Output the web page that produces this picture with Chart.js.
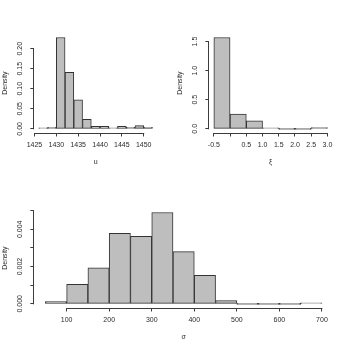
<!DOCTYPE html>
<html><head><meta charset="utf-8">
<script src="https://cdn.jsdelivr.net/npm/chart.js@4/dist/chart.umd.min.js"></script>
<style>
html,body{margin:0;padding:0;background:#fff;}
#wrap{position:relative;width:350px;height:350px;overflow:hidden;}
.p{position:absolute;}
</style></head><body>
<div id="wrap">
<div class="p" style="left:0;top:0;width:175px;height:175px"><canvas id="c1" width="175" height="175"></canvas></div>
<div class="p" style="left:175px;top:0;width:175px;height:175px"><canvas id="c2" width="175" height="175"></canvas></div>
<div class="p" style="left:0;top:175px;width:350px;height:175px"><canvas id="c3" width="350" height="175"></canvas></div>
</div>
<script>
// ---- data: u ----
const uBreaks = [1426,1428,1430,1432,1434,1436,1438,1440,1442,1444,1446,1448,1450,1452];
const uDensity = [0.0012,0.0035,0.228,0.141,0.0725,0.0235,0.006,0.006,0.002,0.006,0.0035,0.008,0.004];
const uTicks = [1425,1430,1435,1440,1445,1450];
const uTickLabels = ['1425','1430','1435','1440','1445','1450'];
const uYTicks = [0,0.05,0.10,0.15,0.20];
const uYTickLabels = ['0.00','0.05','0.10','0.15','0.20'];

// ---- data: xi ----
const xiBreaks = [-0.5,0,0.5,1.0,1.5,2.0,2.5,3.0];
const xiDensity = [1.57,0.252,0.137,0.017,0,0,0.02];
const xiTicks = [-0.5,0,0.5,1.0,1.5,2.0,2.5,3.0];
const xiTickLabels = ['-0.5','','0.5','1.0','1.5','2.0','2.5','3.0'];
const xiYTicks = [0,0.5,1.0,1.5];
const xiYTickLabels = ['0.0','0.5','1.0','1.5'];

// ---- data: sigma ----
const sigmaBreaks = [50,100,150,200,250,300,350,400,450,500,550,600,650,700];
const sigmaDensity = [0.00012,0.00105,0.00193,0.00378,0.00362,0.0049,0.0028,0.00153,0.00018,0,0,0,0.00005];
const sigmaTicks = [100,200,300,400,500,600,700];
const sigmaTickLabels = ['100','200','300','400','500','600','700'];
const sigmaYTicks = [0,0.001,0.002,0.003,0.004,0.005];
const sigmaYTickLabels = ['0.000','','0.002','','0.004',''];

const AXIS = '#3c3c3c';
const TEXT = '#2a2a2a';
Chart.defaults.font.family = '"Liberation Sans", Arial, Helvetica, sans-serif';
Chart.defaults.font.size = 7;
Chart.defaults.color = TEXT;

const axisLines = {
  id: 'axisLines',
  afterDraw(chart, args, o) {
    const {ctx, chartArea: a, scales: {x, y}} = chart;
    ctx.save();
    ctx.strokeStyle = AXIS; ctx.lineWidth = 1;
    const yb = Math.round(a.bottom) + 0.5;
    ctx.beginPath();
    ctx.moveTo(x.getPixelForValue(o.xTicks[0]) - 0.5, yb);
    ctx.lineTo(x.getPixelForValue(o.xTicks[o.xTicks.length - 1]) + 0.5, yb);
    const xl = Math.round(a.left) - 0.5;
    ctx.moveTo(xl, y.getPixelForValue(o.yTicks[0]) + 0.5);
    ctx.lineTo(xl, y.getPixelForValue(o.yTicks[o.yTicks.length - 1]) - 0.5);
    ctx.stroke();
    ctx.restore();
  }
};

function makeHist(id, breaks, density, xTicks, xLabels, yTicks, yLabels, xTitle, yPad, rightPad) {
  const mids = density.map((d, i) => (breaks[i] + breaks[i + 1]) / 2);
  const span = breaks[breaks.length - 1] - breaks[0];
  const ymax = Math.max(...density);
  new Chart(document.getElementById(id), {
    type: 'bar',
    data: {
      datasets: [{
        data: density.map((d, i) => ({x: mids[i], y: d})),
        backgroundColor: '#bebebe',
        borderColor: '#333333',
        borderWidth: 1,
        borderSkipped: false,
        barPercentage: 1,
        categoryPercentage: 1,
        minBarLength: 1
      }]
    },
    options: {
      responsive: false,
      animation: false,
      layout: {padding: {top: 33.8, right: rightPad, bottom: 0, left: 0}},
      plugins: {legend: {display: false}, tooltip: {enabled: false}, axisLines: {xTicks, yTicks}},
      scales: {
        x: {
          type: 'linear',
          offset: false,
          min: breaks[0] - 0.04 * span,
          max: breaks[breaks.length - 1] + 0.04 * span,
          afterBuildTicks: s => { s.ticks = xTicks.map(v => ({value: v})); },
          afterFit: s => { s.height = 42.5; },
          border: {display: false},
          grid: {offset: false, drawOnChartArea: false, drawTicks: true, tickLength: 4, color: AXIS, lineWidth: 1},
          ticks: {autoSkip: false, maxRotation: 0, minRotation: 0, padding: 4.6, color: TEXT,
                  callback: (v, i) => xLabels[i]},
          title: {display: true, text: xTitle, font: {size: 7}, color: TEXT, padding: {top: 0, bottom: 8.5}}
        },
        y: {
          type: 'linear',
          min: -0.04 * ymax,
          max: 1.04 * ymax,
          afterBuildTicks: s => { s.ticks = yTicks.map(v => ({value: v})); },
          afterFit: s => { s.width = 34.3; },
          border: {display: false},
          grid: {drawOnChartArea: false, drawTicks: true, tickLength: 4, color: AXIS, lineWidth: 1},
          ticks: {autoSkip: false, minRotation: 90, maxRotation: 90, crossAlign: 'center', padding: yPad, color: TEXT,
                  callback: (v, i) => yLabels[i]},
          title: {display: true, text: 'Density', font: {size: 7}, color: TEXT, padding: {top: 0.5, bottom: 0}}
        }
      }
    },
    plugins: [axisLines]
  });
}

makeHist('c1', uBreaks, uDensity, uTicks, uTickLabels, uYTicks, uYTickLabels, 'u', 3.2, 18);
makeHist('c2', xiBreaks, xiDensity, xiTicks, xiTickLabels, xiYTicks, xiYTickLabels, 'ξ', 5.1, 18);
makeHist('c3', sigmaBreaks, sigmaDensity, sigmaTicks, sigmaTickLabels, sigmaYTicks, sigmaYTickLabels, 'σ', 1.3, 17);
</script>
</body></html>
